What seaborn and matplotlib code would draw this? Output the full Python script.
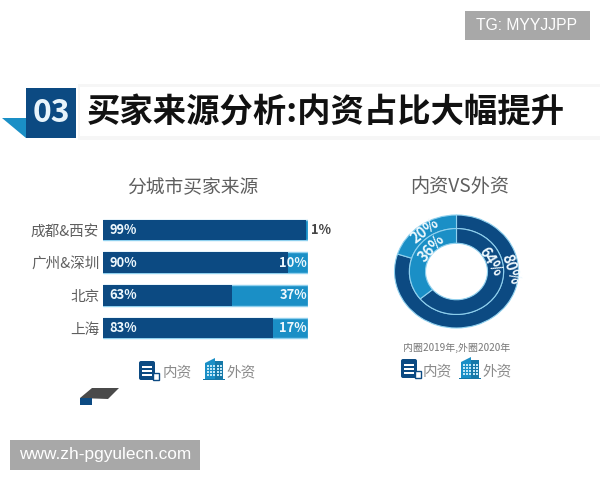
import numpy as np
import pandas as pd
import seaborn as sns
import matplotlib.pyplot as plt
from matplotlib.patches import Rectangle, Polygon, FancyBboxPatch

cities = ['成都&西安', '广州&深圳', '北京', '上海']
domestic = [99, 90, 63, 83]
foreign = [1, 10, 37, 17]

ring_labels = ['内资', '外资']
outer_2020 = [80, 20]
inner_2019 = [64, 36]

DARK = '#0c4a82'
LIGHT = '#1a8fc6'
EDGE = '#8fd0ee'
GREY = '#5f5f5f'
PALE = '#eef8fd'

sns.set_theme(style='white')
plt.rcParams['font.family'] = ['Noto Sans CJK SC', 'DejaVu Sans']

fig = plt.figure(figsize=(6, 4.8), dpi=100, facecolor='white')


def px_axes(left, top, right, bottom):
    # axes placed using picture pixels
    return fig.add_axes([left / 600, 1 - bottom / 480, (right - left) / 600, (bottom - top) / 480])


# overlay in pixel coordinates for header, icons and watermarks
bg = px_axes(0, 0, 600, 480)
bg.set_xlim(0, 600)
bg.set_ylim(480, 0)
bg.axis('off')

# header
bg.add_patch(Rectangle((78, 84), 522, 56, fc='#f6f6f6', ec='none'))
bg.add_patch(Rectangle((80, 87), 520, 49, fc='white', ec='none'))
bg.add_patch(Polygon([(2, 118), (26, 118), (26, 138)], fc=LIGHT, ec='none'))
bg.add_patch(Rectangle((26, 88), 50, 50, fc=DARK, ec='none'))
bg.text(51, 113, '03', color='#e8f4fb', fontsize=23, fontweight='bold', ha='center', va='center')
bg.text(87, 113, '买家来源分析:内资占比大幅提升', color='#111111', fontsize=24,
        fontweight='bold', ha='left', va='center')

# subtitles
bg.text(193, 188, '分城市买家来源', color=GREY, fontsize=13.5, ha='center', va='center')
bg.text(460, 186, '内资VS外资', color=GREY, fontsize=13.8, ha='center', va='center')
bg.text(457, 348, '内圈2019年,外圈2020年', color='#777777', fontsize=7.2, ha='center', va='center')


def doc_icon(x, y, w=20, h=19):
    bg.add_patch(FancyBboxPatch((x, y), w - 4, h, boxstyle='round,pad=0,rounding_size=2', fc=DARK, ec='none'))
    for i in (0.25, 0.48, 0.7):
        bg.add_patch(Rectangle((x + 3, y + h * i), w - 10, 2, fc='white', ec='none'))
    bg.add_patch(Rectangle((x + w - 6, y + h * 0.62), 6, h * 0.38, fc='white', ec=DARK, lw=1))


def building_icon(x, y, w=22, h=22):
    bg.add_patch(Polygon([(x + 2, y + h), (x + 2, y + 5), (x + 12, y), (x + 12, y + h)], fc=LIGHT, ec='none'))
    bg.add_patch(Rectangle((x + 12, y + 3), 8, h - 3, fc='#1478a8', ec='none'))
    bg.add_patch(Rectangle((x, y + h - 1.5), w, 1.5, fc='#1478a8', ec='none'))
    for col in (x + 4, x + 7, x + 10, x + 14, x + 17):
        for row in np.arange(y + 7, y + h - 3, 3):
            bg.add_patch(Rectangle((col, row), 1.5, 1.5, fc='#bfe6f6', ec='none'))


doc_icon(139, 361)
bg.text(177, 372, '内资', color='#8a8a8a', fontsize=10.5, ha='center', va='center')
building_icon(203, 358)
bg.text(241, 372, '外资', color='#8a8a8a', fontsize=10.5, ha='center', va='center')

doc_icon(401, 359)
bg.text(437.5, 371, '内资', color='#8a8a8a', fontsize=10.5, ha='center', va='center')
building_icon(459, 357)
bg.text(497, 371, '外资', color='#8a8a8a', fontsize=10.5, ha='center', va='center')

# stray shape under the chart
bg.add_patch(Polygon([(80, 398), (92, 388), (119, 388), (108, 399)], fc='#4a4a4a', ec='none'))
bg.add_patch(Rectangle((80, 398), 12, 7, fc=DARK, ec='none'))

# watermarks
bg.add_patch(Rectangle((465, 11), 125, 29, fc='#a8a8a8', ec='none'))
bg.text(527, 26, 'TG: MYYJJPP', color='white', fontsize=11.3, family='Liberation Sans', ha='center', va='center')
bg.add_patch(Rectangle((10, 440), 190, 30, fc='#a8a8a8', ec='none'))
bg.text(105, 455, 'www.zh-pgyulecn.com', color='white', fontsize=12.4, family='Liberation Sans', ha='center', va='center')

# stacked bars
df = pd.DataFrame({'city': cities, 'domestic': domestic, 'foreign': foreign})
df['total'] = df['domestic'] + df['foreign']

ax = px_axes(103.5, 213.5, 308, 344.5)
ax.patch.set_alpha(0)
sns.barplot(data=df, y='city', x='total', color=LIGHT, saturation=1, width=0.63,
            edgecolor=EDGE, linewidth=1, ax=ax)
sns.barplot(data=df, y='city', x='domestic', color=DARK, saturation=1, width=0.63,
            edgecolor=DARK, linewidth=0, ax=ax)
ax.set_xlim(0, 100)
ax.set_xlabel('')
ax.set_ylabel('')
ax.set_xticks([])
ax.tick_params(axis='y', length=0, pad=3, labelsize=10.5, labelcolor=GREY)
sns.despine(ax=ax, left=True, bottom=True)

for i, (d, f) in enumerate(zip(domestic, foreign)):
    ax.text(3, i, f'{d}%', color=PALE, fontsize=9.3, fontweight='bold', ha='left', va='center')
    if f < 5:
        ax.text(101.5, i, f'{f}%', color='#444444', fontsize=9.3, fontweight='bold', ha='left', va='center', clip_on=False)
    else:
        ax.text(99.5, i, f'{f}%', color=PALE, fontsize=9.3, fontweight='bold', ha='right', va='center')

# double donut
pie_ax = px_axes(394.5, 215, 518.5, 328)
pie_ax.patch.set_alpha(0)
ring_colors = [DARK, LIGHT]
pie_ax.pie(outer_2020, radius=1, colors=ring_colors, startangle=90, counterclock=False,
           wedgeprops=dict(width=0.24, edgecolor=EDGE, linewidth=0.8))
pie_ax.pie(inner_2019, radius=0.76, colors=ring_colors, startangle=90, counterclock=False,
           wedgeprops=dict(width=0.26, edgecolor=EDGE, linewidth=0.8))
pie_ax.set_aspect('auto')
pie_ax.set_xlim(-1, 1)
pie_ax.set_ylim(-1, 1)

pie_ax.text(0.88, 0.04, f'{outer_2020[0]}%', color=PALE, fontsize=10.5, fontweight='bold',
            rotation=-72, ha='center', va='center')
pie_ax.text(0.55, 0.18, f'{inner_2019[0]}%', color=PALE, fontsize=10.5, fontweight='bold',
            rotation=-58, ha='center', va='center')
pie_ax.text(-0.52, 0.72, f'{outer_2020[1]}%', color=PALE, fontsize=10.5, fontweight='bold',
            rotation=38, ha='center', va='center')
pie_ax.text(-0.40, 0.42, f'{inner_2019[1]}%', color=PALE, fontsize=10.5, fontweight='bold',
            rotation=48, ha='center', va='center')

fig.savefig('out.png', dpi=100)
